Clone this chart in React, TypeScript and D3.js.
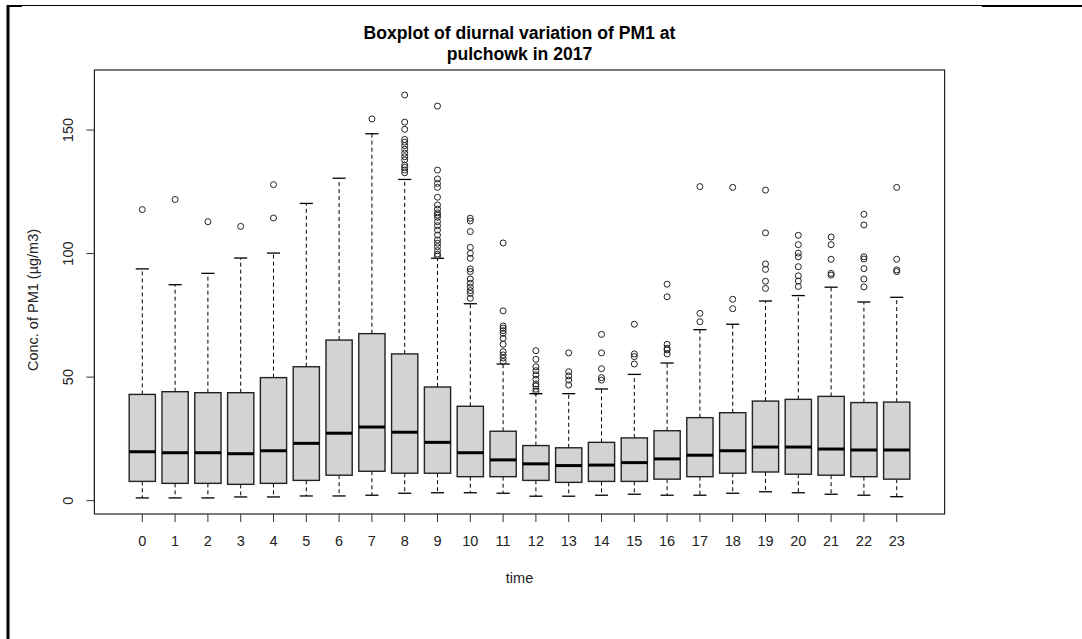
import React from "react";
import * as d3 from "d3";

const hours = [0,1,2,3,4,5,6,7,8,9,10,11,12,13,14,15,16,17,18,19,20,21,22,23];
const whiskerLow = [1.1,1.1,1.1,1.5,1.5,1.9,1.9,2.2,3.0,3.2,3.2,3.0,1.8,1.8,2.2,2.6,2.2,2.2,3.0,3.6,3.2,2.6,2.2,1.6];
const q1 = [7.8,7.0,7.0,6.6,7.0,8.2,10.3,11.9,11.1,11.1,9.7,9.7,8.2,7.4,7.8,7.8,8.7,9.7,11.1,11.6,10.7,10.3,9.7,8.7];
const medians = [19.8,19.4,19.4,19.0,20.2,23.2,27.3,29.8,27.7,23.6,19.4,16.5,14.9,14.2,14.4,15.4,16.9,18.4,20.2,21.7,21.7,20.9,20.5,20.5];
const q3 = [43.0,44.1,43.7,43.7,49.8,54.2,65.0,67.6,59.4,46.0,38.2,28.1,22.3,21.4,23.6,25.4,28.3,33.6,35.6,40.3,41.0,42.2,39.7,39.9];
const whiskerHigh = [93.8,87.4,92.0,98.2,100.2,120.3,130.5,148.5,130.0,98.1,79.7,55.3,43.3,43.3,45.2,51.1,55.7,69.2,71.4,80.8,83.0,86.4,80.4,82.3];
const outliers: number[][] = [
  [117.8],
  [121.9],
  [112.9],
  [111.0],
  [127.9,114.4],
  [],
  [],
  [154.5],
  [164.2,153.2,150.3,146.2,145.1,143.7,142.2,140.6,139.2,137.9,135.8,134.9,133.8,132.7],
  [159.7,133.8,130.2,128.4,126.8,122.8,119.7,118.0,116.5,115.6,114.7,112.9,111.3,109.5,107.5,105.5,104.2,102.8,101.2,99.8,99.0],
  [114.3,113.2,108.9,102.5,100.1,98.1,93.8,92.7,89.7,88.0,86.4,85.0,83.9,81.9],
  [104.3,76.8,70.7,69.8,68.8,67.7,65.7,63.3,60.3,59.0,57.7,56.3],
  [60.7,57.2,54.2,52.6,50.9,49.1,47.2,46.4,45.1,44.1],
  [59.8,52.2,50.5,48.8,46.8],
  [67.3,59.8,53.4,49.8,48.8],
  [71.4,59.4,58.3,55.3],
  [87.6,82.5,63.3,61.7,61.0,59.4],
  [127.1,75.8,72.4],
  [126.8,81.5,77.7],
  [125.7,108.4,95.8,93.6,88.8,85.9],
  [107.4,103.6,100.2,98.7,94.7,91.0,88.9,86.7],
  [106.7,103.6,97.7,92.0,91.3],
  [115.9,111.6,98.7,97.8,93.9,89.7,86.5],
  [126.8,97.7,93.4,92.7],
];
const yTicks = [0, 50, 100, 150];
const titleLines = ["Boxplot of diurnal variation of PM1 at", "pulchowk in 2017"];
const xTitle = "time";
const yTitle = "Conc. of PM1 (\u00b5g/m3)";

const W = 1082, H = 639;
const plotL = 94.4, plotR = 944.6, plotT = 70, plotB = 514;
const font = "'Liberation Sans', Arial, sans-serif";

export default function App() {
  const x = d3.scaleLinear().domain([-0.46, 25.46]).range([plotL, plotR]);
  const y = d3.scaleLinear().domain([-5.4, 174.3]).range([plotB, plotT]);
  const bw = x(0.4) - x(0);
  const cw = x(0.2) - x(0);
  return (
    <svg width={W} height={H} style={{ position: "absolute", left: 0, top: 0, background: "#fff" }} fontFamily={font}>
      <rect x={0} y={0} width={W} height={H} fill="#fff" />
      {/* page frame */}
      <line x1={7} y1={5.5} x2={982} y2={5.5} stroke="#000" strokeWidth={1} />
      <line x1={982} y1={6} x2={1082} y2={6} stroke="#000" strokeWidth={2} />
      <line x1={7} y1={6} x2={22} y2={6} stroke="#000" strokeWidth={2} />
      <line x1={8} y1={5} x2={8} y2={639} stroke="#000" strokeWidth={3} />

      {/* title */}
      {titleLines.map((t, i) => (
        <text key={i} x={(plotL + plotR) / 2} y={39 + i * 21} textAnchor="middle" fontSize={17.6} fontWeight="bold" fill="#000">{t}</text>
      ))}

      {/* boxes */}
      {hours.map((h, i) => {
        const cx = x(i + 1);
        return (
          <g key={h}>
            <line x1={cx} x2={cx} y1={y(q3[i])} y2={y(whiskerHigh[i])} stroke="#000" strokeDasharray="4,3" strokeWidth={1} />
            <line x1={cx} x2={cx} y1={y(q1[i])} y2={y(whiskerLow[i])} stroke="#000" strokeDasharray="4,3" strokeWidth={1} />
            <line x1={cx - cw} x2={cx + cw} y1={y(whiskerHigh[i])} y2={y(whiskerHigh[i])} stroke="#000" strokeWidth={1.3} />
            <line x1={cx - cw} x2={cx + cw} y1={y(whiskerLow[i])} y2={y(whiskerLow[i])} stroke="#000" strokeWidth={1.3} />
            <rect x={cx - bw} y={y(q3[i])} width={2 * bw} height={y(q1[i]) - y(q3[i])} fill="#d3d3d3" stroke="#222" strokeWidth={1.4} />
            <line x1={cx - bw} x2={cx + bw} y1={y(medians[i])} y2={y(medians[i])} stroke="#000" strokeWidth={3} />
            {outliers[i].map((v, j) => (
              <circle key={j} cx={cx} cy={y(v)} r={3} fill="none" stroke="#222" strokeWidth={1} />
            ))}
          </g>
        );
      })}

      {/* plot frame */}
      <rect x={plotL} y={plotT} width={plotR - plotL} height={plotB - plotT} fill="none" stroke="#222" strokeWidth={1.2} />

      {/* y axis */}
      <line x1={plotL} x2={plotL} y1={y(0)} y2={y(150)} stroke="#222" strokeWidth={1} />
      {yTicks.map((t) => (
        <g key={t}>
          <line x1={plotL - 8} x2={plotL} y1={y(t)} y2={y(t)} stroke="#333" strokeWidth={1} />
          <text transform={`translate(${73},${y(t)}) rotate(-90)`} textAnchor="middle" fontSize={14.5} fill="#222">{t}</text>
        </g>
      ))}
      <text transform={`translate(${38},${300}) rotate(-90)`} textAnchor="middle" fontSize={14.5} fill="#222">{yTitle}</text>

      {/* x axis */}
      {hours.map((h, i) => (
        <g key={h}>
          <line x1={x(i + 1)} x2={x(i + 1)} y1={plotB} y2={plotB + 8} stroke="#333" strokeWidth={1} />
          <text x={x(i + 1)} y={546} textAnchor="middle" fontSize={14.5} fill="#222">{h}</text>
        </g>
      ))}
      <text x={(plotL + plotR) / 2} y={583} textAnchor="middle" fontSize={14.5} fill="#222">{xTitle}</text>
    </svg>
  );
}
